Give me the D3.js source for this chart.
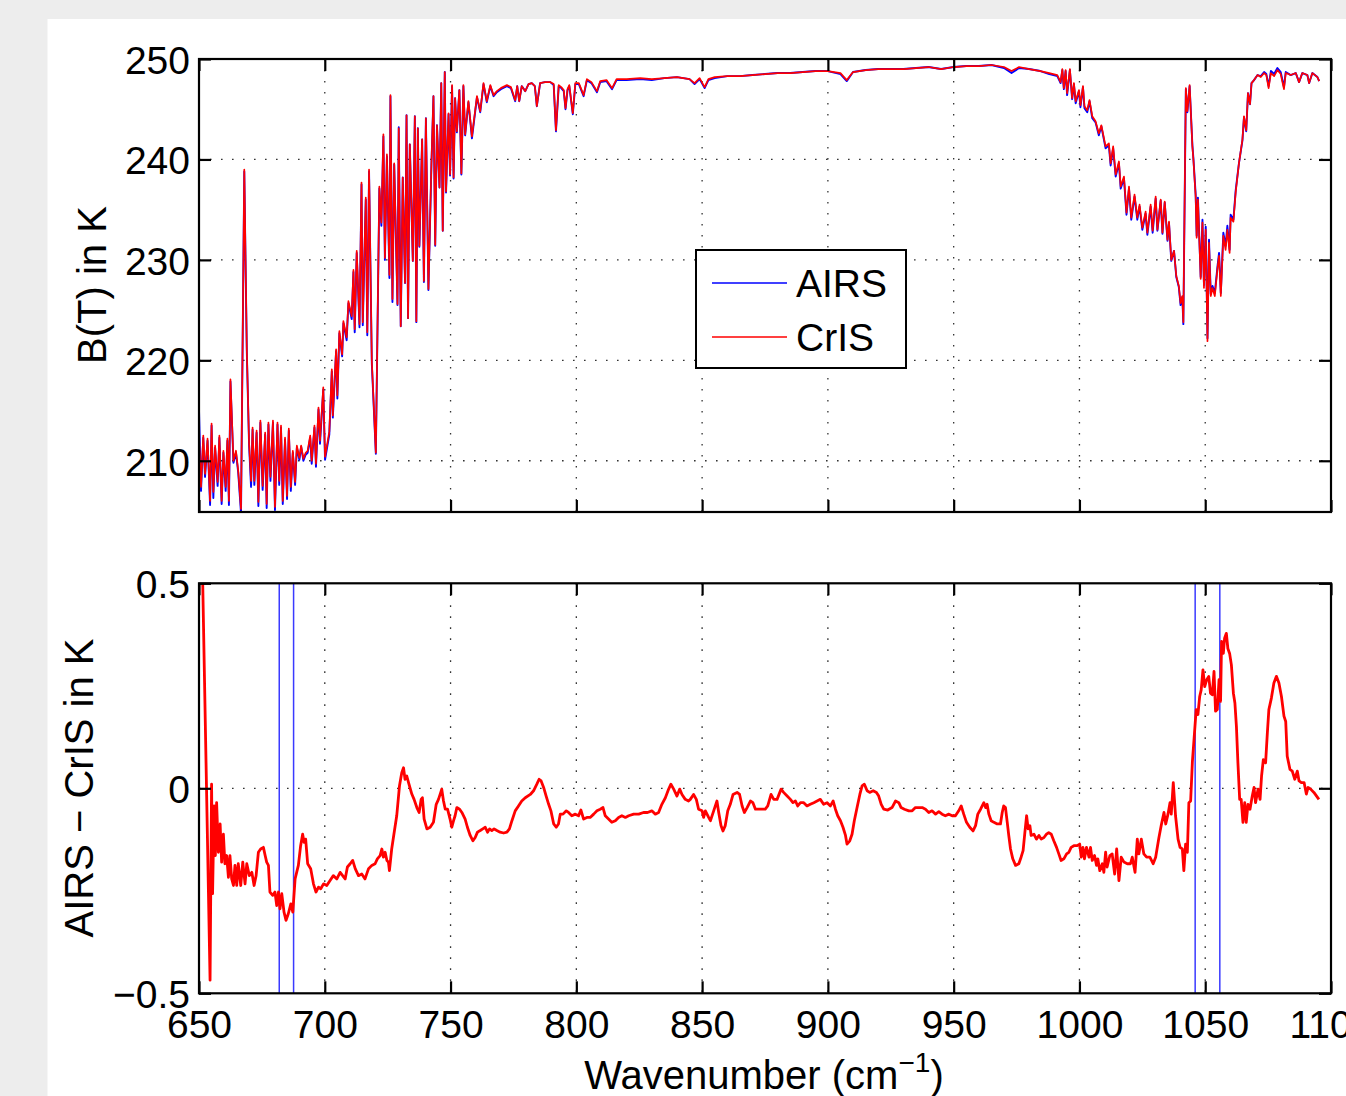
<!DOCTYPE html>
<html><head><meta charset="utf-8">
<script src="https://cdn.jsdelivr.net/npm/d3@7"></script>
<style>
html,body{margin:0;padding:0;background:#ededed;}
svg{display:block;}
text{font-family:"Liberation Sans", Arial, Helvetica, sans-serif;fill:#000;}
</style></head><body>
<svg id="chart" width="1346" height="1096"></svg>
<script>
// ---------- DATA ----------
const wavenumberTop = [
650.0,650.8,651.7,652.4,653.4,654.4,655.0,655.7,656.4,657.4,658.1,659.0,659.7,660.6,661.3,661.9,662.5,663.7,664.7,665.6,
666.7,668.0,669.0,669.9,670.7,671.3,672.0,672.9,673.6,674.4,675.3,676.3,676.9,677.6,678.4,679.4,680.2,681.2,681.9,682.6,
683.3,684.2,685.0,685.7,686.5,687.3,688.2,688.9,689.9,690.6,691.5,692.4,693.2,694.2,694.8,695.9,696.5,697.5,698.1,699.4,
700.1,701.8,702.8,703.2,704.5,705.0,705.8,706.9,707.4,708.7,709.4,710.7,711.4,711.9,712.7,713.8,714.6,715.1,716.3,716.9,
717.6,718.7,720.3,721.7,722.5,723.3,723.9,724.7,725.7,726.1,726.9,727.6,728.9,729.4,730.2,731.0,731.9,732.5,733.1,733.8,
735.0,735.8,736.4,737.0,737.6,738.7,739.4,740.2,741.2,742.4,743.2,743.9,744.6,745.6,746.3,746.9,747.7,748.2,749.2,749.8,
750.6,751.2,751.8,752.5,753.5,754.3,755.1,755.8,757.1,758.5,760.5,761.8,763.1,764.4,765.8,767.1,768.4,770.0,772.4,774.0,
775.7,776.5,777.3,778.3,779.7,781.0,782.3,783.5,784.3,785.6,787.5,789.6,791.0,791.9,793.0,794.0,795.0,795.7,796.5,797.2,
798.6,799.6,801.0,802.9,804.2,806.0,808.2,809.5,812.0,814.2,816.0,820.0,825.4,830.0,835.0,840.0,845.0,847.0,849.0,851.0,
852.5,855.0,860.0,865.0,870.0,875.0,880.0,885.0,890.0,895.0,900.0,905.0,907.5,910.0,915.0,920.0,925.0,930.0,935.0,940.0,
945.0,950.0,955.0,960.0,965.0,970.0,973.0,976.0,980.0,984.5,988.0,991.2,992.5,993.2,993.8,994.5,995.1,996.2,997.1,997.8,
998.5,999.8,1000.4,1001.4,1002.0,1003.1,1004.0,1005.1,1006.4,1007.7,1008.7,1010.4,1011.7,1012.4,1013.4,1014.4,1015.7,1016.4,1017.7,1018.7,
1019.7,1020.6,1021.9,1023.0,1023.9,1025.0,1026.3,1027.0,1028.3,1029.1,1030.3,1031.0,1032.3,1033.0,1033.9,1035.0,1035.6,1036.5,1037.6,1038.5,
1039.5,1040.2,1040.9,1041.3,1042.3,1042.9,1043.8,1044.9,1045.3,1046.2,1046.6,1047.1,1048.2,1048.9,1049.5,1050.2,1050.9,1051.5,1052.2,1052.9,
1053.8,1054.9,1055.5,1056.2,1057.2,1058.1,1058.8,1059.7,1060.1,1061.2,1062.1,1063.4,1064.8,1065.4,1066.3,1067.0,1067.8,1068.4,1069.4,1070.8,
1072.1,1073.4,1074.3,1075.2,1076.1,1077.4,1078.7,1080.0,1081.3,1082.0,1084.0,1086.0,1087.3,1088.6,1090.6,1091.3,1092.6,1094.6,1095.3
];
const crisBT = [
212.8,207.4,212.5,208.7,212.2,206.0,213.7,206.9,211.5,207.9,212.5,206.0,211.0,207.4,212.2,206.0,218.1,210.0,211.0,209.0,
205.2,239.0,221.1,211.8,208.0,213.3,208.0,213.0,205.9,214.0,207.5,212.8,205.7,213.8,208.4,214.0,205.4,213.8,208.0,213.5,
206.0,212.3,206.5,213.2,207.4,211.0,207.9,211.5,210.3,211.5,210.2,210.8,211.0,212.5,210.0,213.5,209.7,215.3,212.0,217.3,
210.4,212.9,219.1,214.5,221.1,216.5,222.9,220.6,223.9,222.3,225.9,224.4,229.0,223.1,230.9,223.6,237.7,223.8,236.2,222.8,
239.0,219.9,210.8,237.3,233.7,242.5,230.2,240.5,228.5,246.4,226.1,239.6,225.6,243.1,223.4,238.2,227.7,244.4,224.2,241.5,
229.9,244.3,223.9,243.1,231.4,242.0,227.9,244.1,227.1,239.6,246.3,231.5,243.4,237.2,247.6,232.9,248.7,236.8,244.6,238.5,
247.4,238.2,246.1,242.8,246.9,238.6,247.4,242.5,245.8,242.3,246.3,244.8,247.6,245.8,247.4,246.4,246.8,247.1,247.4,247.2,
245.9,247.3,245.8,247.3,246.8,247.5,247.6,247.3,245.3,247.6,247.7,247.7,247.5,242.9,247.4,247.2,246.9,245.1,247.0,247.4,
244.6,247.6,247.6,246.4,248.0,247.7,246.8,247.8,247.9,247.1,248.0,248.0,248.1,248.0,248.1,248.2,248.0,247.6,248.1,247.2,
248.0,248.2,248.3,248.3,248.4,248.5,248.6,248.6,248.7,248.8,248.8,248.6,247.9,248.7,248.9,249.0,249.0,249.0,249.1,249.2,
249.0,249.2,249.3,249.3,249.4,249.2,248.8,249.2,249.0,248.8,248.6,248.4,247.7,249.0,247.1,248.9,246.6,249.0,246.1,247.6,
245.8,246.9,245.4,247.3,245.3,244.9,245.9,244.3,243.8,242.6,243.4,241.3,241.6,239.6,241.3,238.5,239.8,237.3,238.3,234.7,
237.3,234.2,236.5,234.2,235.5,233.2,234.8,232.7,235.5,232.9,236.3,233.0,236.0,232.7,235.8,232.0,233.8,230.0,230.9,228.4,
227.4,225.7,226.4,223.8,247.1,244.8,247.4,241.3,240.0,236.3,232.2,236.0,228.1,233.7,227.2,233.0,221.9,231.7,226.4,227.2,
226.4,229.2,230.4,226.4,232.4,231.0,233.0,230.7,234.2,233.8,236.7,239.6,242.0,244.3,242.9,246.6,245.5,247.6,247.9,248.4,
248.2,248.6,248.4,247.1,248.6,248.3,248.9,248.5,247.0,248.6,248.4,248.6,247.7,248.6,248.4,247.6,248.6,248.2,247.8
];
const airsBT = [
215.1,207.0,212.3,208.4,212.0,205.6,213.5,206.3,211.3,207.5,212.3,205.7,210.8,207.0,212.0,205.6,217.9,209.8,210.8,208.8,
204.8,238.8,220.9,211.6,207.4,213.1,207.6,212.8,205.5,213.8,207.1,212.6,205.3,213.6,208.0,213.8,205.1,213.6,207.6,213.3,
205.7,212.1,206.2,213.0,207.0,210.8,207.6,211.3,210.1,211.4,210.0,210.6,210.8,212.3,209.7,213.3,209.4,215.1,211.7,217.1,
210.1,212.6,218.9,214.3,220.9,216.2,222.7,220.4,223.7,222.0,225.7,224.1,228.8,222.8,230.7,223.3,237.5,223.5,236.0,222.5,
238.8,219.7,210.7,237.1,233.4,242.3,230.0,240.3,228.2,246.3,225.8,239.5,225.5,243.2,223.4,238.2,227.7,244.4,224.2,241.5,
229.9,244.3,223.8,243.1,231.3,242.0,227.8,244.1,227.0,239.5,246.3,231.4,243.4,237.2,247.6,232.9,248.7,236.7,244.5,238.4,
247.3,238.1,246.1,242.7,246.9,238.5,247.3,242.4,245.7,242.1,246.2,244.7,247.5,245.7,247.3,246.3,246.7,247.0,247.3,247.1,
245.8,247.3,245.8,247.3,246.8,247.5,247.6,247.3,245.3,247.6,247.7,247.7,247.4,242.8,247.3,247.1,246.8,245.0,246.9,247.3,
244.5,247.5,247.5,246.3,247.9,247.6,246.7,247.7,247.8,247.0,247.9,247.9,248.0,247.9,248.1,248.2,248.0,247.5,248.0,247.1,
247.9,248.1,248.3,248.3,248.4,248.5,248.6,248.6,248.7,248.8,248.8,248.5,247.8,248.7,248.9,249.0,249.0,249.0,249.1,249.2,
249.0,249.2,249.3,249.3,249.4,249.1,248.6,249.1,249.0,248.8,248.5,248.3,247.6,248.9,247.0,248.8,246.4,248.9,246.0,247.5,
245.6,246.8,245.2,247.2,245.1,244.7,245.8,244.1,243.7,242.4,243.3,241.1,241.4,239.4,241.1,238.3,239.6,237.1,238.1,234.5,
237.1,234.0,236.3,234.0,235.3,233.0,234.6,232.5,235.3,232.7,236.1,232.9,235.9,232.6,235.7,231.9,233.7,229.9,230.9,228.3,
227.3,225.5,226.3,223.6,247.0,244.7,247.3,241.4,240.1,236.5,232.4,236.2,228.3,234.0,227.5,233.3,222.2,232.0,226.6,227.4,
226.7,229.4,230.7,226.7,232.7,231.4,233.4,231.0,234.5,234.0,236.9,239.6,241.9,244.2,242.8,246.6,245.5,247.6,247.9,248.4,
248.3,248.7,248.5,247.3,248.8,248.5,249.1,248.7,247.2,248.7,248.4,248.6,247.7,248.6,248.4,247.6,248.6,248.2,247.8
];
const wavenumberDiff = [
651.3,654.4,655.0,655.4,656.0,656.5,657.0,657.7,658.4,659.0,659.7,660.3,661.0,661.7,662.3,663.0,663.7,664.3,665.0,665.6,
666.6,667.4,668.3,669.0,670.0,671.0,671.9,672.7,673.6,674.5,675.6,676.3,676.9,677.6,678.2,679.3,680.2,680.9,681.6,682.2,
682.9,683.8,684.6,685.5,686.5,687.3,688.2,689.5,690.4,691.2,691.8,692.4,693.2,694.4,695.5,696.5,697.5,698.4,699.5,700.8,
702.1,703.4,704.8,706.1,707.1,708.1,709.0,710.1,711.1,712.1,713.4,714.7,716.0,717.4,718.7,720.0,720.9,722.0,722.7,723.3,
724.0,724.7,725.3,725.7,726.6,727.6,728.6,729.7,730.6,731.3,731.9,732.6,733.3,734.6,735.5,736.6,737.5,738.3,738.8,739.5,
740.6,741.9,743.2,744.3,745.2,746.1,746.5,747.2,747.9,748.8,749.8,750.5,751.2,751.8,752.5,753.6,754.5,755.8,756.7,757.8,
758.9,759.8,760.7,761.8,762.8,763.8,764.7,765.5,766.4,767.3,768.4,769.7,771.1,772.4,773.4,774.4,775.7,777.0,778.3,779.7,
781.7,783.0,784.3,785.2,786.0,787.0,788.0,789.0,789.9,791.0,792.0,792.9,793.6,794.7,796.0,796.9,798.2,799.6,800.9,801.8,
802.9,804.2,805.5,806.9,808.2,809.5,810.6,811.5,812.8,814.1,815.5,816.8,818.1,819.5,820.8,822.8,824.8,826.7,828.3,830.0,
831.4,832.7,834.0,835.4,836.7,837.6,838.7,840.0,841.1,842.0,843.3,844.6,845.3,846.6,847.7,848.6,850.0,850.6,851.3,852.6,
853.3,854.6,855.9,856.6,857.5,858.3,859.2,860.2,861.2,862.3,863.9,864.9,865.9,866.8,867.9,869.2,870.2,871.2,873.2,875.1,
876.1,877.4,878.5,879.8,881.4,882.4,883.8,885.1,886.1,887.1,888.0,889.1,890.4,891.7,893.0,894.4,895.7,897.0,898.3,899.7,
901.0,902.1,903.0,903.9,905.0,906.0,907.0,907.6,908.7,909.6,910.5,911.6,912.7,913.6,914.5,915.6,916.6,918.0,919.3,920.2,
921.2,922.2,923.8,925.5,926.9,928.2,929.1,930.4,932.2,933.5,934.8,936.1,937.5,938.8,940.1,941.4,942.8,944.1,945.4,946.7,
948.1,949.4,950.7,952.0,953.0,954.0,955.1,956.4,957.7,958.7,959.6,960.7,962.0,962.7,963.3,964.0,964.9,966.0,967.3,968.6,
969.3,969.9,970.6,971.3,971.9,972.6,973.5,974.6,975.9,976.8,977.6,978.3,979.0,979.6,980.3,980.8,981.9,982.9,983.9,984.8,
985.9,986.9,987.8,988.8,989.8,990.9,991.8,992.7,993.8,994.9,995.8,996.7,997.8,999.1,1000.1,1000.7,1001.4,1002.0,1002.8,1003.8,
1004.4,1005.1,1006.0,1006.8,1007.3,1008.1,1009.1,1009.7,1010.4,1011.0,1012.1,1013.0,1014.0,1014.8,1015.7,1016.6,1017.7,1019.0,1020.3,1021.0,
1022.1,1023.0,1023.6,1024.6,1025.6,1026.7,1028.0,1029.3,1030.3,1031.6,1032.5,1033.6,1034.3,1035.2,1036.0,1036.5,1037.3,1038.2,1039.2,1040.0,
1040.9,1041.5,1042.2,1042.9,1043.5,1044.2,1044.9,1045.5,1046.4,1047.1,1047.8,1048.4,1049.1,1049.8,1050.6,1051.4,1052.1,1052.8,1053.5,1054.1,
1054.8,1055.5,1056.1,1056.5,1057.2,1057.7,1058.4,1059.0,1059.7,1060.4,1061.2,1061.8,1062.4,1063.0,1063.7,1064.3,1065.0,1065.7,1066.3,1067.0,
1067.8,1068.7,1069.4,1070.0,1071.0,1071.8,1072.4,1073.1,1074.0,1074.7,1075.3,1076.3,1077.3,1078.3,1079.3,1080.3,1081.3,1082.0,1082.6,1083.7,
1084.6,1085.6,1086.6,1087.3,1088.2,1089.3,1090.2,1090.9,1091.9,1093.2,1095.2
];
const airsMinusCris = [
0.56,-0.468,0.010,-0.257,-0.043,-0.164,-0.035,-0.156,-0.087,-0.180,-0.112,-0.184,-0.164,-0.217,-0.164,-0.221,-0.237,-0.188,-0.237,-0.184,
-0.237,-0.180,-0.233,-0.184,-0.213,-0.205,-0.237,-0.213,-0.156,-0.148,-0.144,-0.164,-0.180,-0.188,-0.253,-0.261,-0.253,-0.286,-0.253,-0.294,
-0.257,-0.302,-0.322,-0.306,-0.282,-0.302,-0.221,-0.188,-0.140,-0.112,-0.132,-0.124,-0.184,-0.196,-0.233,-0.253,-0.241,-0.245,-0.233,-0.237,
-0.225,-0.213,-0.221,-0.205,-0.213,-0.221,-0.192,-0.184,-0.176,-0.196,-0.213,-0.209,-0.221,-0.196,-0.188,-0.184,-0.172,-0.164,-0.148,-0.168,
-0.156,-0.176,-0.180,-0.201,-0.148,-0.107,-0.067,0.006,0.038,0.050,0.022,0.030,0.014,-0.014,-0.027,-0.047,-0.059,-0.027,-0.023,-0.075,
-0.099,-0.095,-0.083,-0.039,-0.027,-0.010,-0.002,-0.031,-0.051,-0.051,-0.075,-0.095,-0.079,-0.067,-0.047,-0.051,-0.059,-0.075,-0.095,-0.115,
-0.128,-0.120,-0.107,-0.103,-0.099,-0.095,-0.107,-0.099,-0.103,-0.099,-0.103,-0.107,-0.109,-0.107,-0.099,-0.079,-0.055,-0.043,-0.031,-0.023,
-0.015,-0.006,0.010,0.022,0.018,0.002,-0.019,-0.039,-0.055,-0.087,-0.095,-0.087,-0.063,-0.063,-0.055,-0.059,-0.067,-0.063,-0.067,-0.053,
-0.075,-0.071,-0.071,-0.063,-0.055,-0.051,-0.047,-0.067,-0.075,-0.083,-0.079,-0.071,-0.067,-0.071,-0.067,-0.063,-0.063,-0.059,-0.059,-0.055,
-0.063,-0.059,-0.039,-0.023,-0.002,0.010,-0.002,-0.019,-0.002,-0.015,-0.027,-0.031,-0.027,-0.015,-0.027,-0.051,-0.055,-0.071,-0.055,-0.071,
-0.079,-0.055,-0.031,-0.059,-0.091,-0.104,-0.091,-0.055,-0.039,-0.015,-0.010,-0.015,-0.043,-0.059,-0.047,-0.031,-0.035,-0.051,-0.051,-0.051,
-0.043,-0.015,-0.027,-0.027,-0.002,-0.010,-0.019,-0.027,-0.035,-0.031,-0.043,-0.035,-0.035,-0.043,-0.039,-0.035,-0.031,-0.027,-0.039,-0.035,
-0.043,-0.031,-0.051,-0.067,-0.079,-0.095,-0.115,-0.136,-0.128,-0.112,-0.079,-0.047,-0.015,0.006,0.010,-0.006,-0.010,-0.006,-0.010,-0.019,
-0.039,-0.051,-0.053,-0.047,-0.031,-0.035,-0.047,-0.051,-0.055,-0.055,-0.047,-0.047,-0.047,-0.051,-0.059,-0.055,-0.063,-0.057,-0.063,-0.067,
-0.063,-0.067,-0.067,-0.055,-0.043,-0.063,-0.083,-0.095,-0.104,-0.091,-0.063,-0.051,-0.035,-0.047,-0.039,-0.063,-0.079,-0.083,-0.087,-0.087,
-0.059,-0.043,-0.047,-0.083,-0.115,-0.148,-0.172,-0.188,-0.184,-0.168,-0.152,-0.108,-0.067,-0.099,-0.091,-0.115,-0.112,-0.124,-0.115,-0.124,
-0.120,-0.112,-0.108,-0.112,-0.128,-0.144,-0.160,-0.176,-0.172,-0.160,-0.156,-0.144,-0.140,-0.140,-0.136,-0.168,-0.144,-0.172,-0.144,-0.168,
-0.144,-0.176,-0.164,-0.188,-0.172,-0.201,-0.184,-0.205,-0.156,-0.192,-0.164,-0.160,-0.209,-0.148,-0.225,-0.168,-0.180,-0.184,-0.184,-0.168,
-0.205,-0.124,-0.160,-0.124,-0.160,-0.168,-0.168,-0.184,-0.168,-0.120,-0.091,-0.059,-0.087,-0.063,-0.035,-0.063,0.014,-0.067,-0.124,-0.144,
-0.148,-0.201,-0.136,-0.156,-0.035,-0.031,0.065,0.115,0.192,0.180,0.224,0.240,0.289,0.248,0.265,0.273,0.232,0.228,0.285,0.188,
0.192,0.265,0.212,0.358,0.329,0.366,0.378,0.341,0.329,0.301,0.232,0.208,0.151,0.062,-0.027,-0.027,-0.083,-0.035,-0.083,-0.039,
-0.051,-0.019,0.002,-0.035,-0.002,-0.027,0.030,0.070,0.062,0.135,0.192,0.220,0.257,0.273,0.257,0.224,0.176,0.163,0.078,0.046,
0.042,0.022,0.042,0.018,0.014,0.014,-0.014,0.002,-0.002,-0.010,-0.027
];
const markerWavenumbers = [681.9, 687.6, 1046.0, 1055.8];
const xTicks = [650, 700, 750, 800, 850, 900, 950, 1000, 1050, 1100];
const xGridTicks = [700, 750, 800, 850, 900, 950, 1000, 1050];
const topYTicks = [210, 220, 230, 240, 250];
const topYGrid = [210, 220, 230, 240];
const bottomYTicks = [-0.5, 0, 0.5];
const bottomYTickLabels = ["\u22120.5", "0", "0.5"];
const bottomYGrid = [0];
const seriesNames = ["AIRS", "CrIS"];
const seriesColors = ["#0000ff", "#ff0000"];
const topYLabel = "B(T) in K";
const bottomYLabel = "AIRS \u2212 CrIS in K";
const xLabelMain = "Wavenumber (cm";
const xLabelSup = "\u22121";
const xLabelEnd = ")";

// ---------- LAYOUT ----------
const svg = d3.select("#chart");
svg.append("rect").attr("x", 47.5).attr("y", 19).attr("width", 1346).attr("height", 1096).attr("fill", "#ffffff");

const L = 199, R = 1331;
const topP = {t: 59, b: 512};
const botP = {t: 583.3, b: 993.3};
const FS = 39;

const x = d3.scaleLinear().domain([650, 1100]).range([L, R]);
const yTop = d3.scaleLinear().domain([204.9, 250]).range([topP.b, topP.t]);
const yBot = d3.scaleLinear().domain([-0.5, 0.5]).range([botP.b, botP.t]);

const defs = svg.append("defs");
defs.append("clipPath").attr("id", "clipTop").append("rect")
  .attr("x", L).attr("y", topP.t).attr("width", R - L).attr("height", topP.b - topP.t);
defs.append("clipPath").attr("id", "clipBot").append("rect")
  .attr("x", L).attr("y", botP.t).attr("width", R - L).attr("height", botP.b - botP.t);

function grid(g, yScale, yGrid, p) {
  const dash = "1.6,9.4";
  g.selectAll(".vg").data(xGridTicks).enter().append("line")
    .attr("x1", d => x(d)).attr("x2", d => x(d)).attr("y1", p.t).attr("y2", p.b)
    .attr("stroke", "#333").attr("stroke-width", 1.3).attr("stroke-dasharray", dash);
  g.selectAll(".hg").data(yGrid).enter().append("line")
    .attr("x1", L).attr("x2", R).attr("y1", d => yScale(d)).attr("y2", d => yScale(d))
    .attr("stroke", "#333").attr("stroke-width", 1.3).attr("stroke-dasharray", dash);
}

function axes(g, yScale, yTicks, yFmt, p, showX) {
  const TS = -12;
  const styleAxis = sel => {
    sel.select(".domain").remove();
    sel.selectAll(".tick line").attr("stroke", "#000").attr("stroke-width", 2.2);
    sel.selectAll(".tick text").attr("font-size", FS).attr("font-family", '"Liberation Sans", Arial, sans-serif').attr("fill", "#000");
  };
  g.append("g").attr("transform", `translate(0,${p.b})`)
    .call(d3.axisBottom(x).tickValues(xTicks).tickSize(TS).tickPadding(17).tickFormat(showX ? d3.format("d") : () => ""))
    .call(styleAxis);
  g.append("g").attr("transform", `translate(0,${p.t})`)
    .call(d3.axisTop(x).tickValues(xTicks).tickSize(TS).tickFormat(() => ""))
    .call(styleAxis);
  const la = g.append("g").attr("transform", `translate(${L},0)`)
    .call(d3.axisLeft(yScale).tickValues(yTicks).tickSize(TS).tickPadding(9).tickFormat(yFmt))
    .call(styleAxis);
  la.selectAll(".tick text").attr("dy", "0.37em");
  g.append("g").attr("transform", `translate(${R},0)`)
    .call(d3.axisRight(yScale).tickValues(yTicks).tickSize(TS).tickFormat(() => ""))
    .call(styleAxis);
  g.append("rect").attr("x", L).attr("y", p.t).attr("width", R - L).attr("height", p.b - p.t)
    .attr("fill", "none").attr("stroke", "#000").attr("stroke-width", 2.2);
}

// ---------- TOP PANEL ----------
const gTop = svg.append("g");
grid(gTop, yTop, topYGrid, topP);
const lineTop = d3.line().x(d => x(d[0])).y(d => yTop(d[1]));
const plotTop = gTop.append("g").attr("clip-path", "url(#clipTop)");
plotTop.append("path").datum(d3.zip(wavenumberTop, airsBT)).attr("d", lineTop)
  .attr("fill", "none").attr("stroke", seriesColors[0]).attr("stroke-width", 1.9).attr("stroke-linejoin", "round");
plotTop.append("path").datum(d3.zip(wavenumberTop, crisBT)).attr("d", lineTop)
  .attr("fill", "none").attr("stroke", seriesColors[1]).attr("stroke-width", 1.7).attr("stroke-linejoin", "round");
axes(gTop, yTop, topYTicks, d3.format("d"), topP, false);

// legend
const lg = gTop.append("g");
lg.append("rect").attr("x", 696).attr("y", 250).attr("width", 210).attr("height", 118)
  .attr("fill", "#fff").attr("stroke", "#000").attr("stroke-width", 2);
seriesNames.forEach((name, i) => {
  const yy = 283 + i * 54;
  lg.append("line").attr("x1", 712).attr("x2", 787).attr("y1", yy).attr("y2", yy)
    .attr("stroke", seriesColors[i]).attr("stroke-width", 1.4);
  lg.append("text").attr("x", 796).attr("y", yy + 14).attr("font-size", FS).text(name);
});

// ---------- BOTTOM PANEL ----------
const gBot = svg.append("g");
grid(gBot, yBot, bottomYGrid, botP);
const plotBot = gBot.append("g").attr("clip-path", "url(#clipBot)");
plotBot.selectAll(".marker").data(markerWavenumbers).enter().append("line")
  .attr("x1", d => x(d)).attr("x2", d => x(d)).attr("y1", botP.t).attr("y2", botP.b)
  .attr("stroke", "#3a3aff").attr("stroke-width", 1.5);
const lineBot = d3.line().x(d => x(d[0])).y(d => yBot(d[1]));
plotBot.append("path").datum(d3.zip(wavenumberDiff, airsMinusCris)).attr("d", lineBot)
  .attr("fill", "none").attr("stroke", "#ff0000").attr("stroke-width", 2.8).attr("stroke-linejoin", "round");
axes(gBot, yBot, bottomYTicks, d => bottomYTickLabels[bottomYTicks.indexOf(d)], botP, true);

// ---------- AXIS LABELS ----------
svg.append("text").attr("transform", "translate(106,285) rotate(-90)")
  .attr("text-anchor", "middle").attr("font-size", 40).text(topYLabel);
svg.append("text").attr("transform", "translate(93,788) rotate(-90)")
  .attr("text-anchor", "middle").attr("font-size", 40).text(bottomYLabel);
const xl = svg.append("text").attr("x", 764).attr("y", 1089).attr("text-anchor", "middle").attr("font-size", 40);
xl.append("tspan").text(xLabelMain);
xl.append("tspan").attr("font-size", 28).attr("dy", -17).text(xLabelSup);
xl.append("tspan").attr("dy", 17).text(xLabelEnd);
</script>
</body></html>
